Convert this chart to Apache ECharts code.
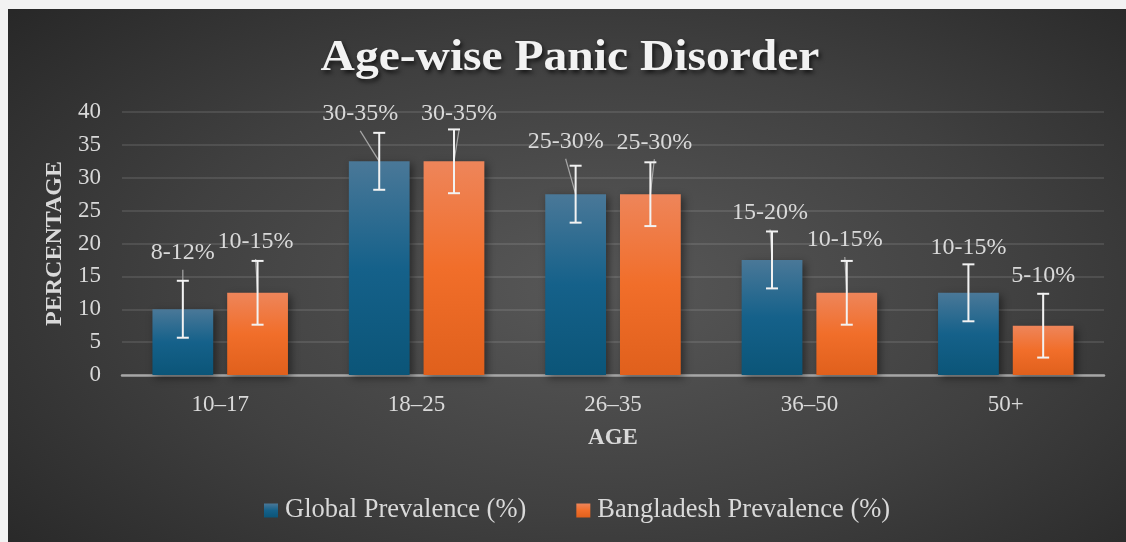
<!DOCTYPE html>
<html><head><meta charset="utf-8">
<script src="https://cdn.jsdelivr.net/npm/echarts@6/dist/echarts.min.js"></script>
<style>
html,body{margin:0;padding:0;background:#f2f2f2;width:1126px;height:542px;overflow:hidden}
#chart{position:absolute;left:8px;top:9px;width:1118px;height:533px;
background:radial-gradient(ellipse 70% 78% at 53% 52%, #585858 0%, #404040 55%, #282828 100%);}
</style></head><body><div id="chart"></div>
<script>
const categories = ['10–17', '18–25', '26–35', '36–50', '50+'];
const globalValues = [10, 32.5, 27.5, 17.5, 12.5];
const bangladeshValues = [12.5, 32.5, 27.5, 12.5, 7.5];
const globalError = [4.33, 4.33, 4.33, 4.33, 4.33];
const bangladeshError = [4.85, 4.85, 4.85, 4.85, 4.85];
const globalLabels = ['8-12%', '30-35%', '25-30%', '15-20%', '10-15%'];
const bangladeshLabels = ['10-15%', '30-35%', '25-30%', '10-15%', '5-10%'];
const yMin = 0, yMax = 40, yInterval = 5;

// label nudges in pixels [dx, dy] (layout only)
const globalLabelNudge = [[0, -9], [-19, 0], [-10, -5], [-2, 0], [0, 2]];
const bangladeshLabelNudge = [[-2, 0], [5, 3], [4, -1], [-2, -2], [0, 1]];

const FONT = '"Liberation Serif", "Times New Roman", serif';
const CAT_GAP = 0.31, BAR_GAP = 0.23;
const TXT = '#d9d9d9';

function makeRender(values, errs, labels, nudges, side) {
  return function (params, api) {
    const i = params.dataIndex;
    const band = api.size([1, 0])[0];
    const w = band * (1 - CAT_GAP) / (2 + BAR_GAP);
    const shift = side * (w + BAR_GAP * w) / 2;
    const base = api.coord([i, values[i]]);
    const cx = base[0] + shift;
    const topY = base[1];
    const hi = api.coord([i, values[i] + errs[i]])[1];
    const lo = api.coord([i, values[i] - errs[i]])[1];
    const lx = cx + nudges[i][0];
    const ly = hi - 19 + nudges[i][1];
    const cap = 6;
    const es = { stroke: '#f2f2f2', lineWidth: 2 };
    return {
      type: 'group', children: [
        { type: 'line', shape: { x1: lx, y1: ly + 17, x2: cx, y2: topY }, style: { stroke: '#a6a6a6', lineWidth: 1.2 } },
        { type: 'line', shape: { x1: cx, y1: hi, x2: cx, y2: lo }, style: es },
        { type: 'line', shape: { x1: cx - cap, y1: hi, x2: cx + cap, y2: hi }, style: es },
        { type: 'line', shape: { x1: cx - cap, y1: lo, x2: cx + cap, y2: lo }, style: es },
        { type: 'text', x: lx, y: ly, style: { text: labels[i], fill: TXT, fontSize: 24, fontFamily: FONT, align: 'center', verticalAlign: 'middle' } }
      ]
    };
  };
}

const blueGrad = new echarts.graphic.LinearGradient(0, 0, 0, 1, [
  { offset: 0, color: '#4a7898' }, { offset: 0.5, color: '#15618a' }, { offset: 1, color: '#0b5578' }]);
const orangeGrad = new echarts.graphic.LinearGradient(0, 0, 0, 1, [
  { offset: 0, color: '#ee855a' }, { offset: 0.5, color: '#f16e2a' }, { offset: 1, color: '#e0601c' }]);
const barShadow = { shadowColor: 'rgba(0,0,0,0.45)', shadowBlur: 8, shadowOffsetX: 3, shadowOffsetY: 3 };

const chart = echarts.init(document.getElementById('chart'), null, { renderer: 'canvas' });
chart.setOption({
  backgroundColor: 'transparent',
  animation: false,
  graphic: [{
    type: 'text', x: 562, y: 50, scaleX: 1.08, z: 100,
    style: {
      text: 'Age-wise Panic Disorder', fill: '#f2f2f2', fontSize: 44, fontWeight: 'bold', fontFamily: FONT,
      align: 'center', verticalAlign: 'middle',
      textShadowColor: 'rgba(0,0,0,0.65)', textShadowBlur: 4, textShadowOffsetX: 2, textShadowOffsetY: 3
    }
  }],
  grid: { left: 114, right: 22, top: 103, bottom: 167, containLabel: false },
  legend: {
    data: ['Global Prevalence (%)', 'Bangladesh Prevalence (%)'],
    left: 251, top: 483, itemWidth: 14, itemHeight: 14, itemGap: 50, icon: 'rect',
    textStyle: { color: TXT, fontSize: 26.5, fontFamily: FONT, padding: [0, 0, 0, 2] }
  },
  xAxis: {
    type: 'category', data: categories,
    name: 'AGE', nameLocation: 'middle', nameGap: 52,
    nameTextStyle: { color: TXT, fontSize: 23, fontWeight: 'bold', fontFamily: FONT },
    axisLine: { show: true, lineStyle: { color: '#a6a6a6', width: 2.5 } },
    axisTick: { show: false },
    axisLabel: { color: TXT, fontSize: 23, fontFamily: FONT, margin: 18 },
    splitLine: { show: false }
  },
  yAxis: {
    type: 'value', min: yMin, max: yMax, interval: yInterval,
    name: 'PERCENTAGE', nameLocation: 'middle', nameGap: 53,
    nameTextStyle: { color: TXT, fontSize: 24, fontWeight: 'bold', fontFamily: FONT },
    axisLine: { show: false }, axisTick: { show: false },
    axisLabel: { color: TXT, fontSize: 23, fontFamily: FONT, margin: 21 },
    splitLine: { show: true, lineStyle: { color: 'rgba(255,255,255,0.1)', width: 2 } }
  },
  series: [
    { name: 'Global Prevalence (%)', type: 'bar', data: globalValues, barCategoryGap: (CAT_GAP * 100) + '%', barGap: (BAR_GAP * 100) + '%',
      itemStyle: Object.assign({ color: blueGrad }, barShadow) },
    { name: 'Bangladesh Prevalence (%)', type: 'bar', data: bangladeshValues, barCategoryGap: (CAT_GAP * 100) + '%', barGap: (BAR_GAP * 100) + '%',
      itemStyle: Object.assign({ color: orangeGrad }, barShadow) },
    { name: 'globalErr', type: 'custom', z: 5, clip: false, data: categories.map((c, i) => [i, globalValues[i]]),
      encode: { x: 0, y: 1 }, renderItem: makeRender(globalValues, globalError, globalLabels, globalLabelNudge, -1) },
    { name: 'bdErr', type: 'custom', z: 5, clip: false, data: categories.map((c, i) => [i, bangladeshValues[i]]),
      encode: { x: 0, y: 1 }, renderItem: makeRender(bangladeshValues, bangladeshError, bangladeshLabels, bangladeshLabelNudge, 1) }
  ]
});
</script></body></html>
